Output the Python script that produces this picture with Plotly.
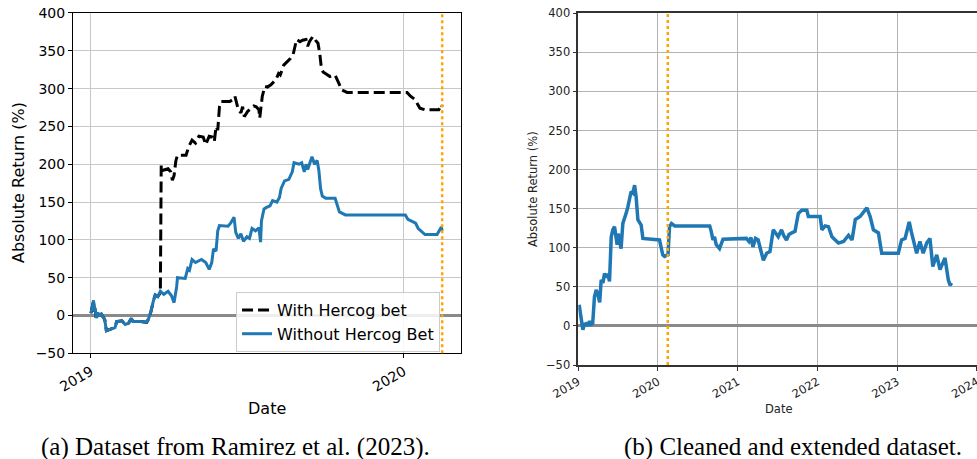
import plotly.graph_objects as go

# ---------------- data ----------------
# (a) Dataset from Ramirez et al. (2023) -- without Hercog bet
dates_a_without = [
    "2019-01-01", "2019-01-03", "2019-01-04", "2019-01-05", "2019-01-06", "2019-01-07",
    "2019-01-09", "2019-01-10", "2019-01-13", "2019-01-15", "2019-01-17", "2019-01-19",
    "2019-01-23", "2019-01-26", "2019-01-29", "2019-01-31", "2019-02-06", "2019-02-10",
    "2019-02-14", "2019-02-17", "2019-02-19", "2019-02-28", "2019-03-07", "2019-03-09",
    "2019-03-12", "2019-03-15", "2019-03-17", "2019-03-20", "2019-03-23", "2019-03-27",
    "2019-04-01", "2019-04-05", "2019-04-08", "2019-04-11", "2019-04-12", "2019-04-21",
    "2019-04-24", "2019-04-26", "2019-04-29", "2019-05-03", "2019-05-10", "2019-05-15",
    "2019-05-19", "2019-05-22", "2019-05-24", "2019-05-27", "2019-05-29", "2019-05-31",
    "2019-06-10", "2019-06-13", "2019-06-17", "2019-06-19", "2019-06-22", "2019-06-25",
    "2019-06-28", "2019-07-02", "2019-07-05", "2019-07-08", "2019-07-12", "2019-07-16",
    "2019-07-18", "2019-07-19", "2019-07-22", "2019-07-25", "2019-07-29", "2019-08-01",
    "2019-08-06", "2019-08-09", "2019-08-11", "2019-08-15", "2019-08-20", "2019-08-24",
    "2019-08-26", "2019-09-01", "2019-09-04", "2019-09-07", "2019-09-09", "2019-09-11",
    "2019-09-14", "2019-09-16", "2019-09-19", "2019-09-22", "2019-09-24", "2019-09-26",
    "2019-09-28", "2019-10-02", "2019-10-13", "2019-10-16", "2019-10-18", "2019-10-25",
    "2020-01-03", "2020-01-06", "2020-01-11", "2020-01-15", "2020-01-18", "2020-01-21",
    "2020-01-26", "2020-02-09", "2020-02-12", "2020-02-14", "2020-02-15",
]
returns_a_without = [
    3, 12, 20, 5, 10, -3,
    4, 0, 2, -2, -5, -20,
    -18, -17, -16, -8, -7, -12,
    -10, -4, -8, -8, -9, -5,
    5, 20, 27, 25, 32, 28,
    32, 26, 17, 38, 50, 49,
    62, 60, 74, 70, 74, 70,
    61, 70, 88, 85, 112, 119,
    118, 122, 130, 110, 102, 108,
    98, 104, 102, 115, 112, 116,
    97, 125, 141, 143, 145, 152,
    150, 156, 168, 178, 180, 190,
    202, 200, 202, 190, 200, 193,
    202, 210, 200, 205, 192, 168,
    158, 155, 155, 145, 137, 133,
    133, 127, 124, 122, 115, 112,
    107, 107, 112, 117, 112,
]

# (a) -- with Hercog bet
dates_a_with = [
    "2019-01-01", "2019-01-03", "2019-01-04", "2019-01-05", "2019-01-06", "2019-01-07",
    "2019-01-09", "2019-01-10", "2019-01-13", "2019-01-15", "2019-01-17", "2019-01-19",
    "2019-01-23", "2019-01-26", "2019-01-29", "2019-01-31", "2019-02-06", "2019-02-10",
    "2019-02-14", "2019-02-17", "2019-02-19", "2019-02-28", "2019-03-07", "2019-03-09",
    "2019-03-12", "2019-03-15", "2019-03-17", "2019-03-20", "2019-03-23",
    "2019-03-24", "2019-03-26", "2019-04-01", "2019-04-04", "2019-04-06", "2019-04-08",
    "2019-04-10", "2019-04-12", "2019-04-22", "2019-04-25", "2019-04-29", "2019-05-03",
    "2019-05-07", "2019-05-12", "2019-05-15", "2019-05-19", "2019-05-23", "2019-05-25",
    "2019-05-27", "2019-05-29", "2019-05-31", "2019-06-02", "2019-06-12", "2019-06-15",
    "2019-06-18", "2019-06-20", "2019-06-22", "2019-06-25", "2019-06-27", "2019-06-29",
    "2019-07-03", "2019-07-07", "2019-07-10", "2019-07-13", "2019-07-16", "2019-07-17",
    "2019-07-19", "2019-07-20", "2019-07-23", "2019-07-26", "2019-07-30", "2019-08-02",
    "2019-08-05", "2019-08-08", "2019-08-10", "2019-08-14", "2019-08-18", "2019-08-22",
    "2019-08-25", "2019-08-27", "2019-08-29", "2019-09-02", "2019-09-05", "2019-09-09",
    "2019-09-11", "2019-09-13", "2019-09-17", "2019-09-20", "2019-09-23", "2019-09-25",
    "2019-09-27", "2019-09-29", "2019-10-02", "2019-10-07", "2019-10-13", "2019-10-17",
    "2019-10-21", "2019-10-27", "2020-01-05", "2020-01-09", "2020-01-15", "2020-01-17",
    "2020-01-20", "2020-01-26", "2020-02-11", "2020-02-13", "2020-02-14", "2020-02-15",
]
returns_a_with = [
    3, 12, 20, 5, 10, -3,
    4, 0, 2, -2, -5, -20,
    -18, -17, -16, -8, -7, -12,
    -10, -4, -8, -8, -9, -5,
    5, 20, 27, 25, 30,
    199, 192, 194, 190, 179, 185,
    204, 212, 212, 223, 232, 228,
    237, 236, 226, 237, 236, 230,
    250, 245, 276, 283, 283, 285,
    290, 280, 272, 268, 276, 263,
    270, 274, 277, 276, 272, 261,
    281, 290, 303, 302, 305, 309,
    312, 320, 318, 331, 335, 340,
    345, 354, 365, 362, 364, 365,
    356, 362, 369, 364, 360, 347,
    327, 322, 320, 316, 318, 309,
    298, 295, 295, 290, 285, 280,
    274, 272, 272, 276, 279, 276,
]

# (b) Cleaned and extended dataset
dates_b = [
    "2019-01-05", "2019-01-11", "2019-01-18", "2019-01-22", "2019-01-29", "2019-02-07",
    "2019-02-14", "2019-02-22", "2019-03-02", "2019-03-08", "2019-03-16", "2019-03-24",
    "2019-04-01", "2019-04-09", "2019-04-16", "2019-04-24", "2019-05-01", "2019-05-10",
    "2019-05-16", "2019-05-24", "2019-06-01", "2019-06-08", "2019-06-16", "2019-06-22",
    "2019-06-28", "2019-07-03", "2019-07-09", "2019-07-16", "2019-07-24", "2019-08-01",
    "2019-08-08", "2019-08-16", "2019-08-24", "2019-08-31", "2019-09-08", "2019-09-16",
    "2019-09-23", "2019-09-26", "2019-10-01", "2019-10-16", "2019-10-24", "2020-01-08",
    "2020-01-16", "2020-01-23", "2020-01-31", "2020-02-16", "2020-02-23", "2020-03-03",
    "2020-03-18", "2020-08-25", "2020-09-01", "2020-09-09", "2020-09-16", "2020-09-24",
    "2020-10-09", "2020-10-25", "2021-02-09", "2021-02-21", "2021-03-02", "2021-03-11",
    "2021-03-23", "2021-04-04", "2021-04-13", "2021-04-28", "2021-05-13", "2021-05-28",
    "2021-06-12", "2021-06-25", "2021-07-05", "2021-07-20", "2021-07-31", "2021-08-12",
    "2021-08-23", "2021-09-05", "2021-09-20", "2021-09-27", "2021-10-05", "2021-10-21",
    "2021-11-13", "2021-11-20", "2022-01-13", "2022-01-21", "2022-02-05", "2022-02-20",
    "2022-03-08", "2022-03-23", "2022-04-07", "2022-04-30", "2022-05-23", "2022-06-08",
    "2022-06-23", "2022-07-15", "2022-07-31", "2022-08-15", "2022-08-30", "2022-09-14",
    "2022-10-07", "2022-10-22", "2023-01-06", "2023-01-21", "2023-02-06", "2023-02-15",
    "2023-02-25", "2023-03-07", "2023-03-15", "2023-03-31", "2023-04-15", "2023-04-30",
    "2023-05-16", "2023-05-31", "2023-06-13", "2023-07-01", "2023-07-16", "2023-07-30",
    "2023-08-08", "2023-08-16", "2023-08-23", "2023-08-31", "2023-09-08",
]
returns_b = [
    27, 15, 5, -5, 2, 3,
    0, 6, 2, 3, 37, 46,
    40, 30, 59, 55, 67, 62,
    67, 57, 114, 123, 127, 110,
    104, 118, 108, 99, 131, 137,
    144, 152, 161, 172, 170, 180,
    165, 150, 136, 129, 112, 110,
    97, 91, 89, 91, 127, 131,
    128, 128, 121, 110, 114, 104,
    99, 111, 112, 108, 113, 101,
    112, 110, 100, 84, 93, 95,
    123, 118, 114, 123, 115, 110,
    117, 119, 121, 132, 144, 148,
    148, 140, 140, 123, 128, 127,
    114, 110, 106, 108, 116, 110,
    136, 140, 145, 151, 140, 123,
    119, 93, 93, 110, 112, 124,
    133, 120, 110, 93, 108, 93,
    106, 112, 76, 91, 72, 80,
    87, 72, 59, 52, 55,
]

event_date = "2020-02-15"
range_a = ["2018-12-11", "2020-03-08"]
range_b = ["2019-01-01", "2024-01-01 12:00"]
ticks_a = ["2019-01-01", "2020-01-01"]
ticklabels_a = ["2019", "2020"]
ticks_b = ["2019-01-01", "2020-01-01", "2021-01-01", "2022-01-01", "2023-01-01", "2024-01-01"]
ticklabels_b = ["2019", "2020", "2021", "2022", "2023", "2024"]
yticks = [-50, 0, 50, 100, 150, 200, 250, 300, 350, 400]
yticklabels = ["\u221250", "0", "50", "100", "150", "200", "250", "300", "350", "400"]

BLUE = "#1f77b4"
SANS = "DejaVu Sans"
SERIF = "Liberation Serif"

fig = go.Figure()

fig.add_trace(go.Scatter(
    x=dates_a_with, y=returns_a_with, mode="lines", name="With Hercog bet",
    line=dict(color="black", width=3, dash="11px,5px"), xaxis="x", yaxis="y"))
fig.add_trace(go.Scatter(
    x=dates_a_without, y=returns_a_without, mode="lines", name="Without Hercog Bet",
    line=dict(color=BLUE, width=3), xaxis="x", yaxis="y"))
fig.add_trace(go.Scatter(
    x=dates_b, y=returns_b, mode="lines", showlegend=False,
    line=dict(color=BLUE, width=3.5), xaxis="x2", yaxis="y2"))

common_y = dict(range=[-50, 400], tickvals=yticks, ticktext=yticklabels,
                showgrid=True, zeroline=True, zerolinecolor="#8a8a8a", zerolinewidth=3,
                ticks="outside", ticklen=4, mirror=True, showline=True, automargin=False)

fig.update_layout(
    width=977, height=459,
    margin=dict(l=0, r=0, t=0, b=0),
    paper_bgcolor="white", plot_bgcolor="white",
    showlegend=True,
    xaxis=dict(domain=[0.0747, 0.4719], anchor="y", type="date", range=range_a,
               tickvals=ticks_a, ticktext=ticklabels_a, tickangle=-30,
               tickfont=dict(family=SANS, size=14, color="black"),
               showgrid=True, gridcolor="#c8c8c8", gridwidth=1,
               ticks="outside", ticklen=4, tickcolor="black", automargin=False,
               showline=True, linecolor="black", linewidth=1, mirror=True, zeroline=False),
    yaxis=dict(domain=[0.2303, 0.9717], anchor="x",
               tickfont=dict(family=SANS, size=14, color="black"),
               gridcolor="#c8c8c8", gridwidth=1, tickcolor="black",
               linecolor="black", linewidth=1, **common_y),
    xaxis2=dict(domain=[0.5919, 1.0], anchor="y2", type="date", range=range_b,
                tickvals=ticks_b, ticktext=ticklabels_b, tickangle=-30,
                ticklabeloverflow="allow",
                tickfont=dict(family=SANS, size=11.5, color="#222"),
                showgrid=True, gridcolor="#b4b4b4", gridwidth=1.3,
                ticks="outside", ticklen=4, tickcolor="#333", automargin=False,
                showline=True, linecolor="#333", linewidth=1.5, mirror=True, zeroline=False),
    yaxis2=dict(domain=[0.2048, 0.9710], anchor="x2",
                tickfont=dict(family=SANS, size=11.5, color="#222"),
                gridcolor="#b4b4b4", gridwidth=1.3, tickcolor="#333",
                linecolor="#333", linewidth=1.5, **common_y),
    legend=dict(x=0.2416, y=0.3638, xanchor="left", yanchor="top",
                bgcolor="rgba(255,255,255,0.85)", bordercolor="#cccccc", borderwidth=1,
                font=dict(family=SANS, size=16, color="black"),
                tracegroupgap=0, itemwidth=30),
)

# event markers (orange dotted vertical lines)
for xr, yr in (("x", "y domain"), ("x2", "y2 domain")):
    fig.add_shape(type="line", xref=xr, yref=yr, x0=event_date, x1=event_date, y0=0, y1=1,
                  line=dict(color="#FFA500", width=2.5, dash="dot"), layer="above")

# axis titles and captions
annots = [
    dict(text="Date", x=267 / 977, y=1 - 408 / 459, font=dict(family=SANS, size=16, color="black")),
    dict(text="Absolute Return (%)", x=18 / 977, y=1 - 183 / 459, textangle=-90,
         font=dict(family=SANS, size=16, color="black")),
    dict(text="Date", x=779 / 977, y=1 - 409 / 459, font=dict(family=SANS, size=11.5, color="#222")),
    dict(text="Absolute Return (%)", x=533 / 977, y=1 - 189 / 459, textangle=-90,
         font=dict(family=SANS, size=11.5, color="#222")),
    dict(text="(a) Dataset from Ramirez et al. (2023).", x=235 / 977, y=1 - 447 / 459,
         font=dict(family=SERIF, size=25, color="black")),
    dict(text="(b) Cleaned and extended dataset.", x=793 / 977, y=1 - 447 / 459,
         font=dict(family=SERIF, size=25, color="black")),
]
for a in annots:
    fig.add_annotation(xref="paper", yref="paper", showarrow=False,
                       xanchor="center", yanchor="middle", **a)

fig.write_html(
    "out.html",
    config={"displayModeBar": False},
    post_script="document.body.style.margin='0';document.body.style.overflow='hidden';",
)
